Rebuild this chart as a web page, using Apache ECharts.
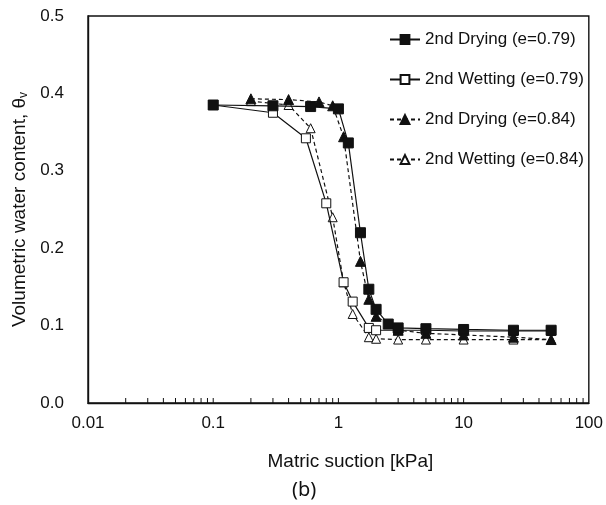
<!DOCTYPE html>
<html>
<head>
<meta charset="utf-8">
<script src="https://cdn.jsdelivr.net/npm/echarts@6/dist/echarts.min.js"></script>
<style>
  html, body { margin: 0; padding: 0; background: #fff; }
  #chart { width: 606px; height: 505px; }
</style>
</head>
<body>
<div id="chart"></div>
<script>
// Soil-water characteristic curves: matric suction (kPa, log scale) vs volumetric water content
const dryingE079X = [0.1, 0.3, 0.6, 1.0, 1.2, 1.5, 1.75, 2, 2.5, 3, 5, 10, 25, 50];
const dryingE079Y = [0.385, 0.384, 0.383, 0.380, 0.336, 0.220, 0.147, 0.121, 0.102, 0.097, 0.096, 0.095, 0.094, 0.094];

const wettingE079X = [0.1, 0.3, 0.55, 0.8, 1.1, 1.3, 1.75, 2, 3, 5, 10, 25, 50];
const wettingE079Y = [0.385, 0.375, 0.342, 0.258, 0.156, 0.131, 0.097, 0.094, 0.094, 0.094, 0.093, 0.093, 0.093];

const dryingE084X = [0.2, 0.4, 0.7, 0.9, 1.1, 1.5, 1.75, 2, 3, 5, 10, 25, 50];
const dryingE084Y = [0.393, 0.392, 0.389, 0.384, 0.344, 0.183, 0.134, 0.112, 0.094, 0.090, 0.088, 0.085, 0.082];

const wettingE084X = [0.2, 0.4, 0.6, 0.9, 1.1, 1.3, 1.75, 2, 3, 5, 10, 25, 50];
const wettingE084Y = [0.390, 0.385, 0.355, 0.240, 0.156, 0.115, 0.085, 0.083, 0.082, 0.082, 0.082, 0.082, 0.082];

const seriesNames = ['2nd Drying (e=0.79)', '2nd Wetting (e=0.79)', '2nd Drying (e=0.84)', '2nd Wetting (e=0.84)'];

const xTickValues = [0.01, 0.1, 1, 10, 100];
const yTickValues = [0.0, 0.1, 0.2, 0.3, 0.4, 0.5];
// logarithmic minor ticks within each decade
const xMinorTicks = [
  0.02, 0.03, 0.04, 0.05, 0.06, 0.07, 0.08, 0.09,
  0.2, 0.3, 0.4, 0.5, 0.6, 0.7, 0.8, 0.9,
  2, 3, 4, 5, 6, 7, 8, 9,
  20, 30, 40, 50, 60, 70, 80, 90
];

const pairs = (xs, ys) => xs.map((x, i) => [x, ys[i]]);
const FONT = 'Liberation Sans, Arial, sans-serif';
const INK = '#111';

const chart = echarts.init(document.getElementById('chart'), null, { renderer: 'canvas' });

const tickSeries = {
  type: 'custom',
  name: 'ticks',
  silent: true,
  z: 1,
  data: xMinorTicks.concat(xTickValues.slice(1, -1)).map(v => [v, yTickValues[0]]),
  renderItem: function (params, api) {
    const p = api.coord([api.value(0), api.value(1)]);
    return {
      type: 'line',
      shape: { x1: p[0], y1: p[1], x2: p[0], y2: p[1] - 5 },
      style: { stroke: INK, lineWidth: 1 }
    };
  }
};

function lineSeries(name, data, dashed, symbol, filled, size, z) {
  return {
    name: name,
    type: 'line',
    data: data,
    z: z,
    symbol: symbol,
    symbolSize: size,
    showSymbol: true,
    lineStyle: { color: INK, width: 1.2, type: dashed ? [4, 3] : 'solid' },
    itemStyle: { color: filled ? INK : '#fff', borderColor: INK, borderWidth: 1 },
    emphasis: { disabled: true },
    animation: false
  };
}

chart.setOption({
  backgroundColor: '#fff',
  animation: false,
  grid: {
    left: 88, right: 16, top: 16, bottom: 102,
    show: true, borderColor: INK, borderWidth: 1.4
  },
  legend: {
    data: seriesNames,
    orient: 'vertical',
    left: 384,
    top: 26,
    itemWidth: 30,
    itemHeight: 11,
    itemGap: 23,
    textStyle: { fontFamily: FONT, fontSize: 17, color: INK },
    selectedMode: false
  },
  xAxis: {
    type: 'log',
    logBase: 10,
    min: xTickValues[0],
    max: xTickValues[xTickValues.length - 1],
    name: 'Matric suction [kPa]',
    nameLocation: 'middle',
    nameGap: 49,
    nameTextStyle: { fontFamily: FONT, fontSize: 19, color: INK, padding: [0, 0, 0, 24] },
    axisLine: { show: true, lineStyle: { color: INK, width: 1.4 } },
    axisTick: { show: false },
    splitLine: { show: false },
    axisLabel: {
      fontFamily: FONT, fontSize: 17, color: INK, margin: 12,
      formatter: v => String(parseFloat(Number(v).toPrecision(3)))
    }
  },
  yAxis: {
    type: 'value',
    min: yTickValues[0],
    max: yTickValues[yTickValues.length - 1],
    interval: 0.1,
    name: '{main|Volumetric water content, θ}{sub|v}',
    nameLocation: 'middle',
    nameGap: 53,
    nameTextStyle: {
      fontFamily: FONT, fontSize: 19, color: INK,
      rich: {
        main: { fontFamily: FONT, fontSize: 19, color: INK },
        sub: { fontFamily: FONT, fontSize: 12, color: INK, padding: [8, 0, 0, 0] }
      }
    },
    axisLine: { show: true, lineStyle: { color: INK, width: 1.4 } },
    axisTick: { show: false },
    splitLine: { show: false },
    axisLabel: {
      fontFamily: FONT, fontSize: 17, color: INK, margin: 24,
      formatter: v => v.toFixed(1)
    }
  },
  graphic: [{
    type: 'text',
    left: 292,
    top: 480,
    style: { text: '(b)', font: '20px "Noto Sans", sans-serif', fill: INK }
  }],
  series: [
    tickSeries,
    lineSeries(seriesNames[1], pairs(wettingE079X, wettingE079Y), false, 'rect', false, 9, 3),
    lineSeries(seriesNames[3], pairs(wettingE084X, wettingE084Y), true, 'triangle', false, 9, 2),
    lineSeries(seriesNames[2], pairs(dryingE084X, dryingE084Y), true, 'triangle', true, 10, 4),
    lineSeries(seriesNames[0], pairs(dryingE079X, dryingE079Y), false, 'rect', true, 10, 5)
  ]
});
</script>
</body>
</html>
